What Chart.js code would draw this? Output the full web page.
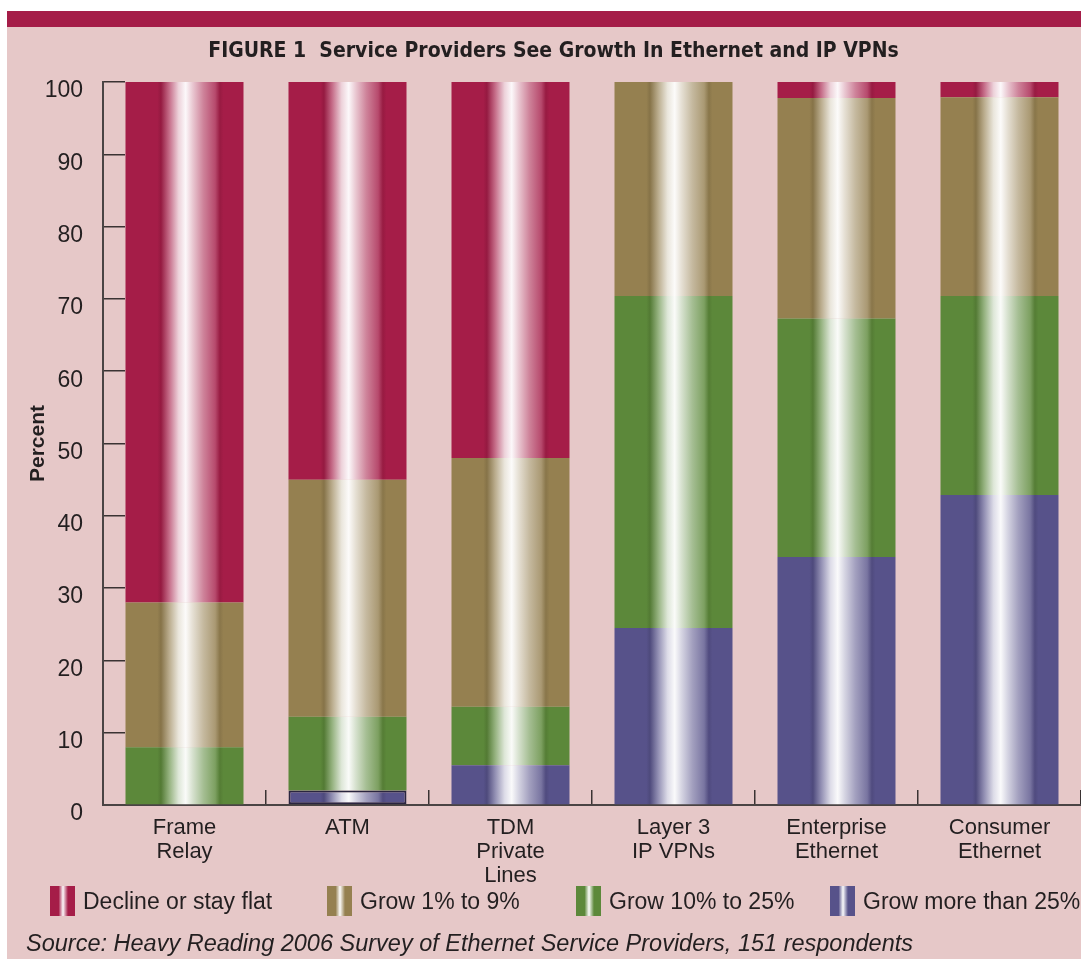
<!DOCTYPE html>
<html>
<head>
<meta charset="utf-8">
<script src="https://cdn.jsdelivr.net/npm/chart.js@4.4.0/dist/chart.umd.min.js"></script>
<style>
html, body { margin: 0; padding: 0; background: #fff; }
#panel { position: absolute; left: 7px; top: 11px; width: 1074px; height: 948px; background: #e6c8c8; }
#band { position: absolute; left: 7px; top: 11px; width: 1074px; height: 16px; background: #a51d48; }
#wrap { position: absolute; left: 0; top: 0; width: 1081px; height: 963px; }
#legend { position: absolute; left: 0; top: 886px; width: 1081px; height: 32px; }
.item { position: absolute; top: 0; height: 30px; display: flex; align-items: center; white-space: nowrap;
        font: 23px 'Liberation Sans', Arial, sans-serif; color: #231f20; }
.swatch { width: 25px; height: 30px; margin-right: 8px; }
</style>
</head>
<body>
<div id="panel"></div>
<div id="band"></div>
<div id="wrap"><canvas id="chart"></canvas></div>
<div id="legend"></div>
<script>
// data (percent of respondents)
const categories = [["Frame", "Relay"], "ATM", ["TDM", "Private", "Lines"], ["Layer 3", "IP VPNs"], ["Enterprise", "Ethernet"], ["Consumer", "Ethernet"]];
const seriesNames = ["Grow more than 25%", "Grow 10% to 25%", "Grow 1% to 9%", "Decline or stay flat"];
const growMore25 = [0, 2, 5.5, 24.5, 34.3, 42.9];
const grow10to25 = [8, 10.2, 8.1, 45.9, 33, 27.5];
const grow1to9 = [20, 32.8, 34.4, 29.6, 30.5, 27.5];
const declineFlat = [72, 55, 52, 0, 2.2, 2.1];
const yTicks = [0, 10, 20, 30, 40, 50, 60, 70, 80, 90, 100];

const colors = ["#57528a", "#5c883a", "#958050", "#a51d48"];
const legendLeft = [830, 576, 327, 50];
const barPct = 0.724;
const textColor = "#231f20";
const sans = "'Liberation Sans', Arial, sans-serif";

function rgb(hex) {
    return [1, 3, 5].map(i => parseInt(hex.substr(i, 2), 16));
}
function mixW(hex, t) {
    const c = rgb(hex).map(v => Math.round(v + (255 - v) * t));
    return `rgb(${c[0]},${c[1]},${c[2]})`;
}
function dark(hex, t) {
    const c = rgb(hex).map(v => Math.round(v * (1 - t)));
    return `rgb(${c[0]},${c[1]},${c[2]})`;
}

function shine(g, base) {
    g.addColorStop(0, base);
    g.addColorStop(0.27, base);
    g.addColorStop(0.30, dark(base, 0.1));
    g.addColorStop(0.37, mixW(base, 0.35));
    g.addColorStop(0.45, mixW(base, 0.8));
    g.addColorStop(0.51, mixW(base, 0.97));
    g.addColorStop(0.57, mixW(base, 0.75));
    g.addColorStop(0.66, mixW(base, 0.45));
    g.addColorStop(0.76, mixW(base, 0.2));
    g.addColorStop(0.80, dark(base, 0.08));
    g.addColorStop(0.83, base);
    g.addColorStop(1, base);
    return g;
}

function barFill(base) {
    return ctx => {
        const chart = ctx.chart;
        if (!chart.chartArea || ctx.dataIndex === undefined || !chart.scales.x) return base;
        const xs = chart.scales.x;
        const cx = xs.getPixelForValue(ctx.dataIndex);
        const w = xs.width / categories.length * barPct;
        const g = chart.ctx.createLinearGradient(cx - w / 2, 0, cx + w / 2, 0);
        return shine(g, base);
    };
}

// html legend, same order as the figure (top of stack first)
const legendBox = document.getElementById("legend");
seriesNames.forEach((name, i) => {
    const base = colors[i];
    const item = document.createElement("div");
    item.className = "item";
    item.style.left = legendLeft[i] + "px";
    const sw = document.createElement("div");
    sw.className = "swatch";
    sw.style.background = `linear-gradient(to right, ${base} 0%, ${base} 34%, ${mixW(base, 0.97)} 52%, ${base} 72%, ${base} 100%)`;
    const tx = document.createElement("span");
    tx.textContent = name;
    item.appendChild(sw);
    item.appendChild(tx);
    legendBox.appendChild(item);
});

const seriesData = [growMore25, grow10to25, grow1to9, declineFlat];

new Chart(document.getElementById("chart"), {
    type: "bar",
    data: {
        labels: categories,
        datasets: seriesData.map((d, i) => ({
            label: seriesNames[i],
            data: d,
            backgroundColor: barFill(colors[i]),
            borderColor: "#2a2540",
            borderWidth: i === 0 ? [0, 2, 0, 0, 0, 0] : 0,
            borderSkipped: false,
            barPercentage: barPct,
            categoryPercentage: 1
        }))
    },
    options: {
        responsive: true,
        maintainAspectRatio: false,
        animation: false,
        devicePixelRatio: 1,
        layout: { padding: { left: 26, right: 0, top: 27, bottom: 5.6 } },
        plugins: {
            title: {
                display: true,
                text: "FIGURE 1  Service Providers See Growth In Ethernet and IP VPNs",
                color: textColor,
                font: { family: "'Liberation Sans Narrow', 'DejaVu Sans Condensed', sans-serif", size: 21, weight: "bold" },
                padding: { top: 12.4, bottom: 17.4 }
            },
            subtitle: {
                display: true,
                position: "bottom",
                align: "start",
                text: "Source: Heavy Reading 2006 Survey of Ethernet Service Providers, 151 respondents",
                color: textColor,
                font: { family: sans, size: 23.5, style: "italic", lineHeight: 1.12 },
                padding: { top: 26, bottom: 0 }
            },
            legend: { display: false },
            tooltip: { enabled: false }
        },
        scales: {
            x: {
                stacked: true,
                afterFit: s => { s.height = 100; },
                grid: { offset: true, drawOnChartArea: false, tickLength: -15, color: "#3a3333", lineWidth: 1.5 },
                border: { color: "#4a4444", width: 2 },
                ticks: {
                    padding: 26,
                    color: textColor,
                    maxRotation: 0,
                    autoSkip: false,
                    font: { family: sans, size: 22, lineHeight: 1.08 }
                }
            },
            y: {
                stacked: true,
                min: 0,
                max: 100,
                afterFit: s => { s.width = 77; },
                afterBuildTicks: s => { s.ticks = yTicks.map(v => ({ value: v })); },
                grid: { drawOnChartArea: false, tickLength: -22, color: "#3a3333", lineWidth: 1.5 },
                border: { color: "#4a4444", width: 2 },
                ticks: {
                    padding: 42,
                    labelOffset: 9,
                    color: textColor,
                    font: { family: sans, size: 23 }
                },
                title: {
                    display: true,
                    text: "Percent",
                    color: textColor,
                    padding: 0,
                    font: { family: sans, size: 21, weight: "bold" }
                }
            }
        }
    }
});
</script>
</body>
</html>
